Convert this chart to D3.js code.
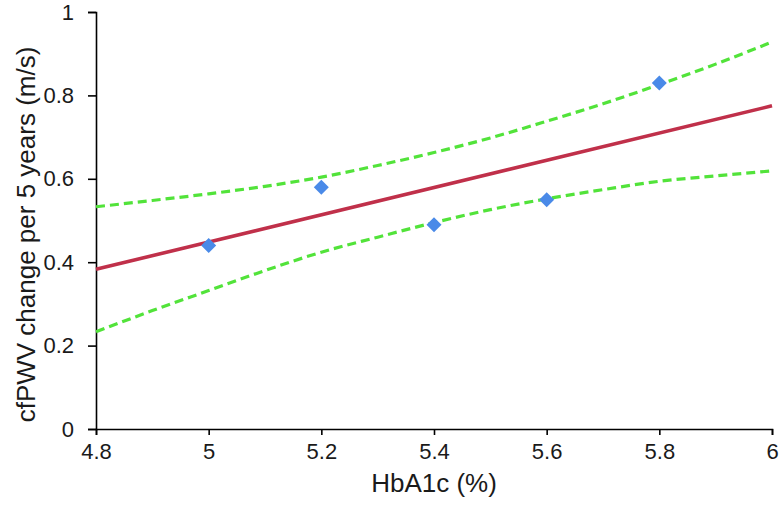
<!DOCTYPE html>
<html><head><meta charset="utf-8">
<script src="https://cdn.jsdelivr.net/npm/d3@7"></script>
<style>body{margin:0;background:#fff}svg{display:block}
.tk text{font-family:"Liberation Sans",Arial,Helvetica,sans-serif;font-size:22px;fill:#1a1a1a}
.ttl{font-family:"Liberation Sans",Arial,Helvetica,sans-serif;font-size:26px;fill:#1a1a1a}
</style>
</head><body>
<script>
// Data
const pointsX = [5.0, 5.2, 5.4, 5.6, 5.8];
const pointsY = [0.44, 0.58, 0.49, 0.55, 0.83];
const fitX = [4.8, 6.0];
const fitY = [0.383, 0.775];
const bandX = [4.8, 4.9, 5.0, 5.1, 5.2, 5.3, 5.4, 5.5, 5.6, 5.7, 5.8, 5.9, 6.0];
const upperY = [0.533, 0.548, 0.564, 0.582, 0.604, 0.632, 0.663, 0.698, 0.738, 0.780, 0.826, 0.875, 0.928];
const lowerY = [0.233, 0.284, 0.332, 0.380, 0.424, 0.460, 0.495, 0.526, 0.552, 0.574, 0.594, 0.607, 0.619];
const xTicks = [4.8, 5, 5.2, 5.4, 5.6, 5.8, 6];
const yTicks = [0, 0.2, 0.4, 0.6, 0.8, 1];
const xTitle = "HbA1c (%)";
const yTitle = "cfPWV change per 5 years (m/s)";

const W = 780, H = 508;
const m = {left: 96, right: 8, top: 12, bottom: 79};
const svg = d3.select("body").append("svg").attr("width", W).attr("height", H);
const x = d3.scaleLinear().domain([4.8, 6]).range([m.left, W - m.right]);
const y = d3.scaleLinear().domain([0, 1]).range([H - m.bottom, m.top]);

// axes
const xa = svg.append("g").attr("class", "tk").attr("transform", `translate(0,${y(0)})`)
  .call(d3.axisBottom(x).tickValues(xTicks).tickSize(6).tickPadding(8).tickFormat(d3.format("")));
const ya = svg.append("g").attr("class", "tk").attr("transform", `translate(${x(4.8)},0)`)
  .call(d3.axisLeft(y).tickValues(yTicks).tickSize(8).tickPadding(14).tickFormat(d3.format("")));
[xa, ya].forEach(g => {
  g.attr("font-size", null).attr("font-family", null);
  g.select(".domain").attr("stroke", "#000").attr("stroke-width", 1.6);
  g.selectAll(".tick line").attr("stroke", "#000").attr("stroke-width", 1.6);
});
xa.selectAll("text").attr("dy", "0.71em");

const line = d3.line().x(d => x(d[0])).y(d => y(d[1])).curve(d3.curveMonotoneX);
// confidence bands
[upperY, lowerY].forEach(arr => {
  svg.append("path").datum(bandX.map((v, i) => [v, arr[i]]))
    .attr("d", line).attr("fill", "none")
    .attr("stroke", "#52e33a").attr("stroke-width", 3.2).attr("stroke-dasharray", "9,5");
});
// regression line
svg.append("path").datum(fitX.map((v, i) => [v, fitY[i]]))
  .attr("d", d3.line().x(d => x(d[0])).y(d => y(d[1])))
  .attr("fill", "none").attr("stroke", "#c0304a").attr("stroke-width", 3.6);
// points (diamonds)
const r = 7.5;
svg.selectAll(".pt").data(pointsX.map((v, i) => [v, pointsY[i]])).enter().append("path")
  .attr("d", `M0,${-r}L${r},0L0,${r}L${-r},0Z`)
  .attr("transform", d => `translate(${x(d[0])},${y(d[1])})`)
  .attr("fill", "#4a8ae8");

// titles
svg.append("text").attr("class", "ttl").attr("x", (x(4.8) + x(6)) / 2).attr("y", 492)
  .attr("text-anchor", "middle").text(xTitle);
svg.append("text").attr("class", "ttl")
  .attr("transform", `translate(35,${(y(0) + y(1)) / 2 + 14}) rotate(-90)`)
  .attr("text-anchor", "middle").text(yTitle);
</script>
</body></html>
